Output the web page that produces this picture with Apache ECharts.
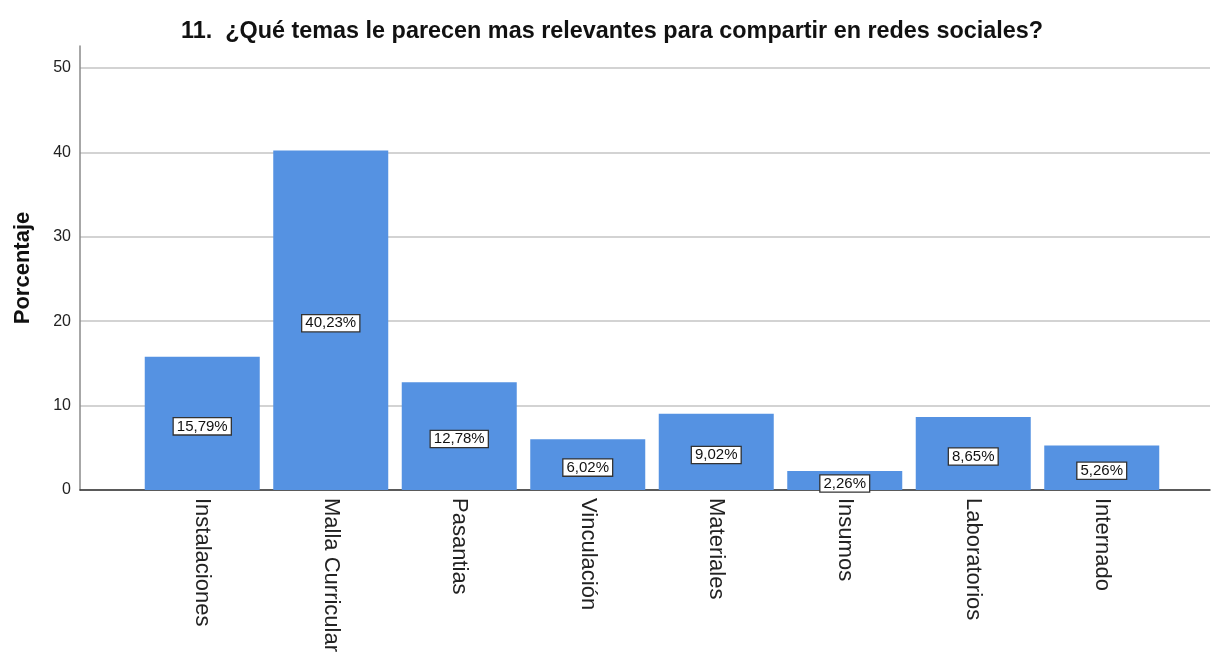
<!DOCTYPE html>
<html>
<head>
<meta charset="utf-8">
<script src="https://cdn.jsdelivr.net/npm/echarts@6/dist/echarts.min.js"></script>
<style>
  html, body { margin: 0; padding: 0; background: #fff; }
  #chart { width: 1212px; height: 653px; }
</style>
</head>
<body>
<div id="chart"></div>
<script>
// Survey question 11: topics considered most relevant to share on social media
var titleText = '11.  ¿Qué temas le parecen mas relevantes para compartir en redes sociales?';
var categories = ['Instalaciones', 'Malla Curricular', 'Pasantias', 'Vinculación', 'Materiales', 'Insumos', 'Laboratorios', 'Internado'];
var percentages = [15.79, 40.23, 12.78, 6.02, 9.02, 2.26, 8.65, 5.26];
var yTicks = [0, 10, 20, 30, 40, 50];

var FONT = '"Liberation Sans", Arial, sans-serif';
var chart = echarts.init(document.getElementById('chart'), null, { renderer: 'canvas' });

function pctLabel(v) {
  return v.toFixed(2).replace('.', ',') + '%';
}

var option = {
  backgroundColor: '#ffffff',
  animation: false,
  title: {
    text: titleText,
    left: 176,
    top: 15,
    textStyle: { fontFamily: FONT, fontSize: 23.4, fontWeight: 'bold', color: '#111' }
  },
  grid: [
    // frame with gridlines and value axis
    { left: 80, right: 2, top: 68, bottom: 163, outerBoundsMode: 'none' },
    // taller vertical axis line and axis title
    { left: 80, right: 2, top: 46, bottom: 163, outerBoundsMode: 'none' },
    // bars (long category labels may run past the bottom edge)
    { left: 138, right: 46, top: 68, bottom: 163, outerBoundsMode: 'none' }
  ],
  xAxis: [
    {
      gridIndex: 0, type: 'category', data: [''],
      axisLine: { show: true, lineStyle: { color: '#333', width: 1.5 } },
      axisTick: { show: false }, axisLabel: { show: false }, splitLine: { show: false }
    },
    {
      gridIndex: 1, type: 'category', data: [''], show: false
    },
    {
      gridIndex: 2, type: 'category', data: categories,
      axisLine: { show: false }, axisTick: { show: false },
      axisLabel: {
        rotate: -90, margin: 8, interval: 0,
        fontFamily: FONT, fontSize: 22, color: '#222'
      }
    }
  ],
  yAxis: [
    {
      gridIndex: 0, type: 'value', min: yTicks[0], max: yTicks[yTicks.length - 1], interval: 10,
      axisLine: { show: false }, axisTick: { show: false },
      axisLabel: { fontFamily: FONT, fontSize: 16, color: '#222', margin: 9 },
      splitLine: { show: true, lineStyle: { color: '#c4c4c4', width: 1.5 } }
    },
    {
      gridIndex: 1, type: 'value', min: 0, max: 1,
      name: 'Porcentaje', nameLocation: 'middle', nameGap: 46,
      nameTextStyle: { fontFamily: FONT, fontSize: 22, fontWeight: 'bold', color: '#111' },
      axisLine: { show: true, lineStyle: { color: '#8a8a8a', width: 1.5 } },
      axisTick: { show: false }, axisLabel: { show: false }, splitLine: { show: false }
    },
    {
      gridIndex: 2, type: 'value', min: yTicks[0], max: yTicks[yTicks.length - 1], show: false
    }
  ],
  series: [
    {
      type: 'bar',
      xAxisIndex: 2, yAxisIndex: 2,
      data: percentages,
      barWidth: '89.5%',
      itemStyle: { color: '#5592e2' },
      label: {
        show: true,
        position: 'inside',
        offset: [0, 3],
        formatter: function (p) { return pctLabel(p.value); },
        fontFamily: FONT, fontSize: 15, color: '#111',
        backgroundColor: '#ffffff',
        borderColor: '#333', borderWidth: 1.3,
        padding: [1, 3, 0, 3]
      },
      z: 3
    }
  ]
};

chart.setOption(option);
</script>
</body>
</html>
